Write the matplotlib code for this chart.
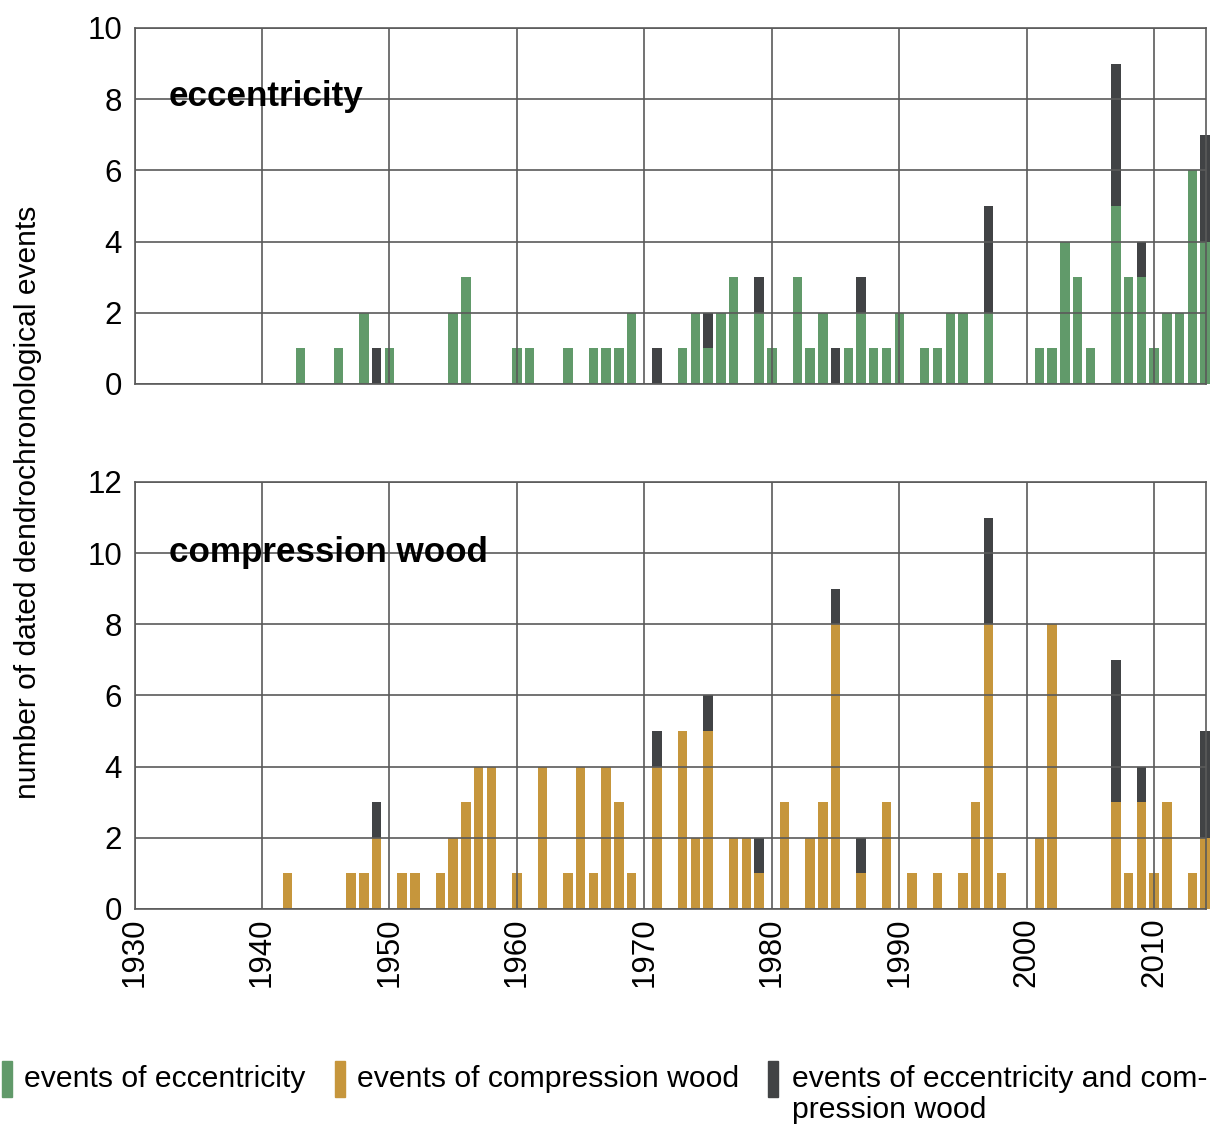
import numpy as np
import matplotlib
matplotlib.use("Agg")
import matplotlib.pyplot as plt
from matplotlib.patches import Rectangle

plt.rcParams['font.family'] = ['Liberation Sans', 'DejaVu Sans']

# eccentricity panel: years, eccentricity only, eccentricity + compression wood
years_ecc = [1943, 1946, 1948, 1949, 1950, 1955, 1956, 1960, 1961, 1964,
             1966, 1967, 1968, 1969, 1971, 1973, 1974, 1975, 1976, 1977,
             1979, 1980, 1982, 1983, 1984, 1985, 1986, 1987, 1988, 1989,
             1990, 1992, 1993, 1994, 1995, 1997, 2001, 2002, 2003, 2004,
             2005, 2007, 2008, 2009, 2010, 2011, 2012, 2013, 2014]
ecc_only = [1, 1, 2, 0, 1, 2, 3, 1, 1, 1,
            1, 1, 1, 2, 0, 1, 2, 1, 2, 3,
            2, 1, 3, 1, 2, 0, 1, 2, 1, 1,
            2, 1, 1, 2, 2, 2, 1, 1, 4, 3,
            1, 5, 3, 3, 1, 2, 2, 6, 4]
ecc_both = [0, 0, 0, 1, 0, 0, 0, 0, 0, 0,
            0, 0, 0, 0, 1, 0, 0, 1, 0, 0,
            1, 0, 0, 0, 0, 1, 0, 1, 0, 0,
            0, 0, 0, 0, 0, 3, 0, 0, 0, 0,
            0, 4, 0, 1, 0, 0, 0, 0, 3]

# compression wood panel
years_cw = [1942, 1947, 1948, 1949, 1951, 1952, 1954, 1955, 1956, 1957,
            1958, 1960, 1962, 1964, 1965, 1966, 1967, 1968, 1969, 1971,
            1973, 1974, 1975, 1977, 1978, 1979, 1981, 1983, 1984, 1985,
            1987, 1989, 1991, 1993, 1995, 1996, 1997, 1998, 2001, 2002,
            2007, 2008, 2009, 2010, 2011, 2013, 2014]
cw_only = [1, 1, 1, 2, 1, 1, 1, 2, 3, 4,
           4, 1, 4, 1, 4, 1, 4, 3, 1, 4,
           5, 2, 5, 2, 2, 1, 3, 2, 3, 8,
           1, 3, 1, 1, 1, 3, 8, 1, 2, 8,
           3, 1, 3, 1, 3, 1, 2]
cw_both = [0, 0, 0, 1, 0, 0, 0, 0, 0, 0,
           0, 0, 0, 0, 0, 0, 0, 0, 0, 1,
           0, 0, 1, 0, 0, 1, 0, 0, 0, 1,
           1, 0, 0, 0, 0, 0, 3, 0, 0, 0,
           4, 0, 1, 0, 0, 0, 3]

green = '#619a6a'
gold = '#c6963c'
dark = '#414345'
gridc = '#5a5a5a'

fig = plt.figure(figsize=(12.11, 11.24), dpi=100)
ax1 = fig.add_axes([0.1111, 0.6584, 0.8848, 0.3167])
ax2 = fig.add_axes([0.1111, 0.1913, 0.8848, 0.3799])

w = 0.74
ax1.bar(years_ecc, ecc_only, width=w, color=green, clip_on=False)
ax1.bar(years_ecc, ecc_both, width=w, bottom=ecc_only, color=dark, clip_on=False)
ax2.bar(years_cw, cw_only, width=w, color=gold, clip_on=False)
ax2.bar(years_cw, cw_both, width=w, bottom=cw_only, color=dark, clip_on=False)

for ax, ymax in [(ax1, 10), (ax2, 12)]:
    ax.set_xlim(1930, 2014.07)
    ax.set_ylim(0, ymax)
    ax.set_xticks(np.arange(1930, 2011, 10))
    ax.set_yticks(np.arange(0, ymax + 1, 2))
    ax.grid(True, color=gridc, linewidth=1.2)
    ax.set_axisbelow(False)
    for s in ax.spines.values():
        s.set_color(gridc)
        s.set_linewidth(1.2)
    ax.tick_params(axis='y', length=0, pad=9, labelsize=22.5)
    ax.tick_params(axis='x', length=0, pad=6, labelsize=22.5)

ax1.set_xticklabels([])
ax2.set_xticklabels([str(y) for y in range(1930, 2011, 10)], rotation=90)

ax1.text(1932.7, 7.8, 'eccentricity', fontsize=25.2, fontweight='bold')
ax2.text(1932.7, 9.75, 'compression wood', fontsize=25.2, fontweight='bold')

fig.text(0.023, 0.553, 'number of dated dendrochronological events',
         rotation=90, fontsize=21.6, ha='center', va='center')

# legend
legend_items = [(2, green, 24.5, ['events of eccentricity']),
                (335, gold, 357.5, ['events of compression wood']),
                (768, dark, 792.5, ['events of eccentricity and com-', 'pression wood'])]
W, H = 1211.0, 1124.0
for px, col, tx, lines in legend_items:
    fig.patches.append(Rectangle((px / W, 1 - 1097 / H), 9.5 / W, 36 / H,
                                 transform=fig.transFigure, color=col))
    for i, line in enumerate(lines):
        fig.text(tx / W, 1 - (1087 + 31 * i) / H, line, fontsize=21.7,
                 ha='left', va='baseline')

fig.savefig('out.png', dpi=100)
